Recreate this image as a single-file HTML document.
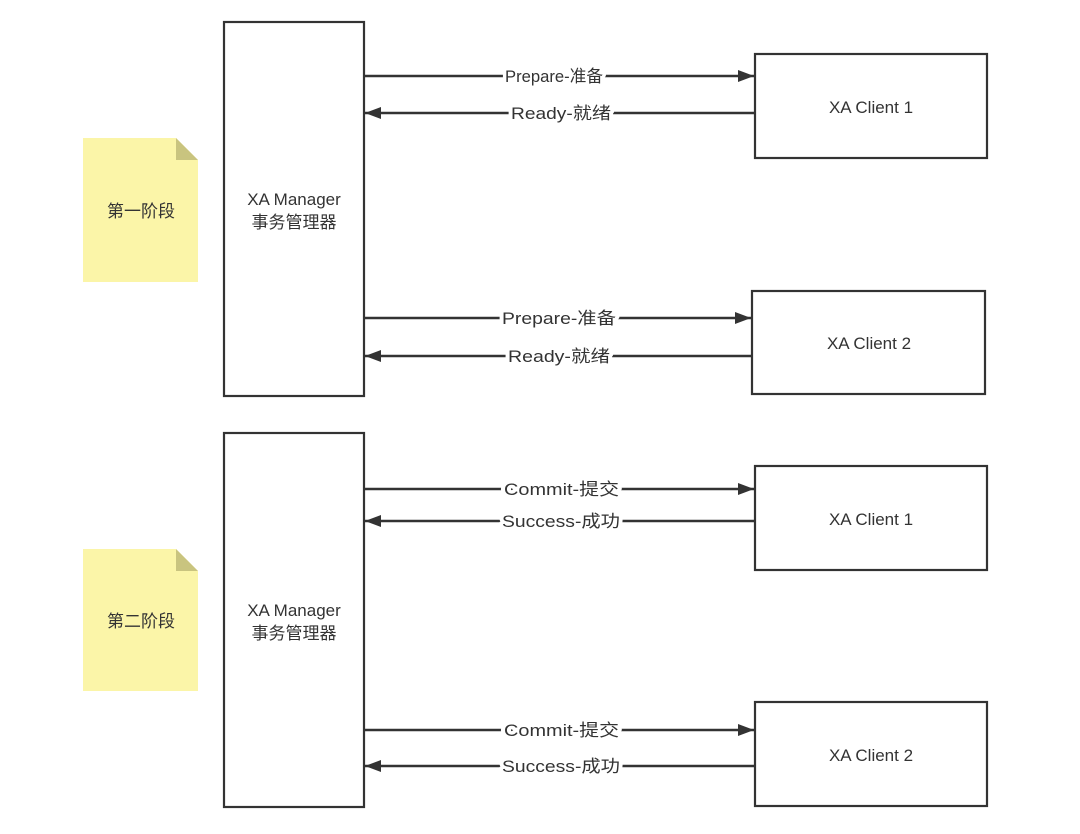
<!DOCTYPE html>
<html><head><meta charset="utf-8"><style>
html,body{margin:0;padding:0;background:#fff;}
svg{display:block;}
text{font-family:"Liberation Sans","Noto Sans CJK SC",sans-serif;fill:#333;}
.l{paint-order:stroke;stroke:#fff;stroke-width:7px;stroke-linejoin:round;}
</style></head><body>
<svg width="1080" height="834" viewBox="0 0 1080 834" xmlns="http://www.w3.org/2000/svg">
<defs>
<marker id="a" viewBox="0 0 16 12" refX="16" refY="6" markerWidth="16" markerHeight="12" markerUnits="userSpaceOnUse" orient="auto-start-reverse">
<path d="M0,0 L16,6 L0,12 z" fill="#333"/></marker>
</defs>
<g stroke="#333" stroke-width="2.2" fill="#fff">
<rect x="224" y="22" width="140" height="374"/>
<rect x="755" y="54" width="232" height="104"/>
<rect x="752" y="291" width="233" height="103"/>
<rect x="224" y="433" width="140" height="374"/>
<rect x="755" y="466" width="232" height="104"/>
<rect x="755" y="702" width="232" height="104"/>
</g>
<path d="M83,138 H176 L198,160 V282 H83 z" fill="#fbf5a8"/>
<path d="M176,138 L198,160 H176 z" fill="#c9c47f"/>
<path d="M83,549 H176 L198,571 V691 H83 z" fill="#fbf5a8"/>
<path d="M176,549 L198,571 H176 z" fill="#c9c47f"/>
<g font-size="17" text-anchor="middle">
<text x="141" y="217">第一阶段</text>
<text x="141" y="627">第二阶段</text>
<text x="294" y="205">XA Manager</text>
<text x="294" y="228">事务管理器</text>
<text x="294" y="616">XA Manager</text>
<text x="294" y="639">事务管理器</text>
<text x="871" y="113">XA Client 1</text>
<text x="869" y="349">XA Client 2</text>
<text x="871" y="525">XA Client 1</text>
<text x="871" y="761">XA Client 2</text>
</g>
<g stroke="#333" stroke-width="2.4" fill="none">
<line x1="364" y1="76" x2="754" y2="76" marker-end="url(#a)"/>
<line x1="755" y1="113" x2="365" y2="113" marker-end="url(#a)"/>
<line x1="364" y1="318" x2="751" y2="318" marker-end="url(#a)"/>
<line x1="752" y1="356" x2="365" y2="356" marker-end="url(#a)"/>
<line x1="364" y1="489" x2="754" y2="489" marker-end="url(#a)"/>
<line x1="755" y1="521" x2="365" y2="521" marker-end="url(#a)"/>
<line x1="364" y1="730" x2="754" y2="730" marker-end="url(#a)"/>
<line x1="755" y1="766" x2="365" y2="766" marker-end="url(#a)"/>
</g>
<g font-size="17">
<text class="l" x="505" y="82" textLength="98" lengthAdjust="spacingAndGlyphs">Prepare-准备</text>
<text class="l" x="511" y="119" textLength="100" lengthAdjust="spacingAndGlyphs">Ready-就绪</text>
<text class="l" x="502" y="324" textLength="114" lengthAdjust="spacingAndGlyphs">Prepare-准备</text>
<text class="l" x="508" y="362" textLength="102" lengthAdjust="spacingAndGlyphs">Ready-就绪</text>
<text class="l" x="504" y="495" textLength="115" lengthAdjust="spacingAndGlyphs">Commit-提交</text>
<text class="l" x="502" y="527" textLength="118" lengthAdjust="spacingAndGlyphs">Success-成功</text>
<text class="l" x="504" y="736" textLength="115" lengthAdjust="spacingAndGlyphs">Commit-提交</text>
<text class="l" x="502" y="772" textLength="118" lengthAdjust="spacingAndGlyphs">Success-成功</text>
</g>
</svg>
</body></html>
